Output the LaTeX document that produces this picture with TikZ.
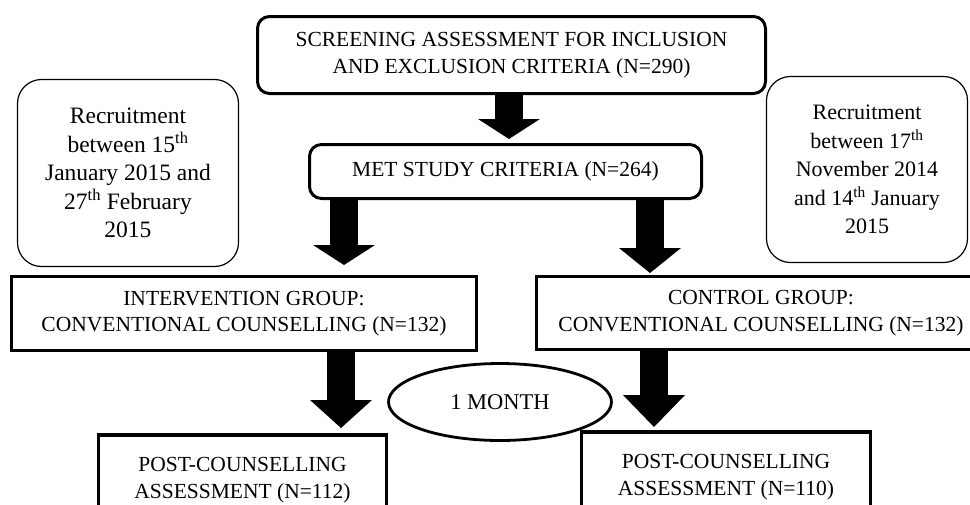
\documentclass[tikz,border=0pt]{standalone}
\usepackage{fontspec}
\setmainfont{Liberation Serif}
\usetikzlibrary{arrows.meta,shapes.geometric}
\tikzset{
  mynode/.style={font=\fontsize{21.5}{26.5}\selectfont, align=center, inner sep=0pt},
  rbox/.style={mynode, draw, line width=3pt, rounded corners=12pt},
  sbox/.style={mynode, draw, line width=3.3pt},
  recbox/.style={mynode, draw, line width=1.2pt, rounded corners=24pt, font=\fontsize{22.5}{28.5}\selectfont},
  oval/.style={mynode, draw, ellipse, line width=2.8pt},
  barrow/.style={line width=28pt, -{Triangle[width=62pt,length=#1,line width=0pt]}},
}
\begin{document}
\begin{tikzpicture}[x=1pt,y=-1pt]
\useasboundingbox (0,0) rectangle (970,504);
\clip (0,0) rectangle (970,504);

\node[rbox, minimum width=508pt, minimum height=77pt] (screen) at (511.5,55)
  {SCREENING ASSESSMENT FOR INCLUSION\\AND EXCLUSION CRITERIA (N=290)};
\node[rbox, minimum width=392pt, minimum height=54pt] (met) at (505.5,171.5)
  {MET STUDY CRITERIA (N=264)};
\node[recbox, minimum width=221pt, minimum height=187pt, font=\fontsize{23.5}{28.5}\selectfont] (recl) at (128,173)
  {Recruitment\\between 15\textsuperscript{th}\\January 2015 and\\27\textsuperscript{th} February\\2015};
\node[recbox, minimum width=201pt, minimum height=186pt, font=\fontsize{22}{28.5}\selectfont] (recr) at (867,169.5)
  {Recruitment\\between 17\textsuperscript{th}\\November 2014\\and 14\textsuperscript{th} January\\2015};
\node[sbox, minimum width=465pt, minimum height=74pt] (inter) at (244,313.5)
  {INTERVENTION GROUP:\\CONVENTIONAL COUNSELLING (N=132)};
\node[sbox, minimum width=449pt, minimum height=73pt] (ctrl) at (761,313)
  {CONTROL GROUP:\\CONVENTIONAL COUNSELLING (N=132)};
\node[oval, minimum width=223pt, minimum height=77pt, font=\fontsize{22.5}{26.5}\selectfont] (month) at (500,402)
  {1 MONTH};
\node[sbox, minimum width=288pt, minimum height=90pt] (postl) at (242.5,480)
  {POST-COUNSELLING\\ASSESSMENT (N=112)};
\node[sbox, minimum width=289pt, minimum height=90pt] (postr) at (726,477)
  {POST-COUNSELLING\\ASSESSMENT (N=110)};

\coordinate (t1) at (509,139);
\coordinate (t2l) at (344,265);
\coordinate (t2r) at (650,273);
\coordinate (t3l) at (341,428);
\coordinate (t3r) at (654,427);

\draw[barrow=20pt] (screen.south -| t1) -- (t1);
\draw[barrow=20pt] (met.south -| t2l) -- (t2l);
\draw[barrow=25pt] (met.south -| t2r) -- (t2r);
\draw[barrow=28pt] (inter.south -| t3l) -- (t3l);
\draw[barrow=32pt] (ctrl.south -| t3r) -- (t3r);
\end{tikzpicture}
\end{document}
